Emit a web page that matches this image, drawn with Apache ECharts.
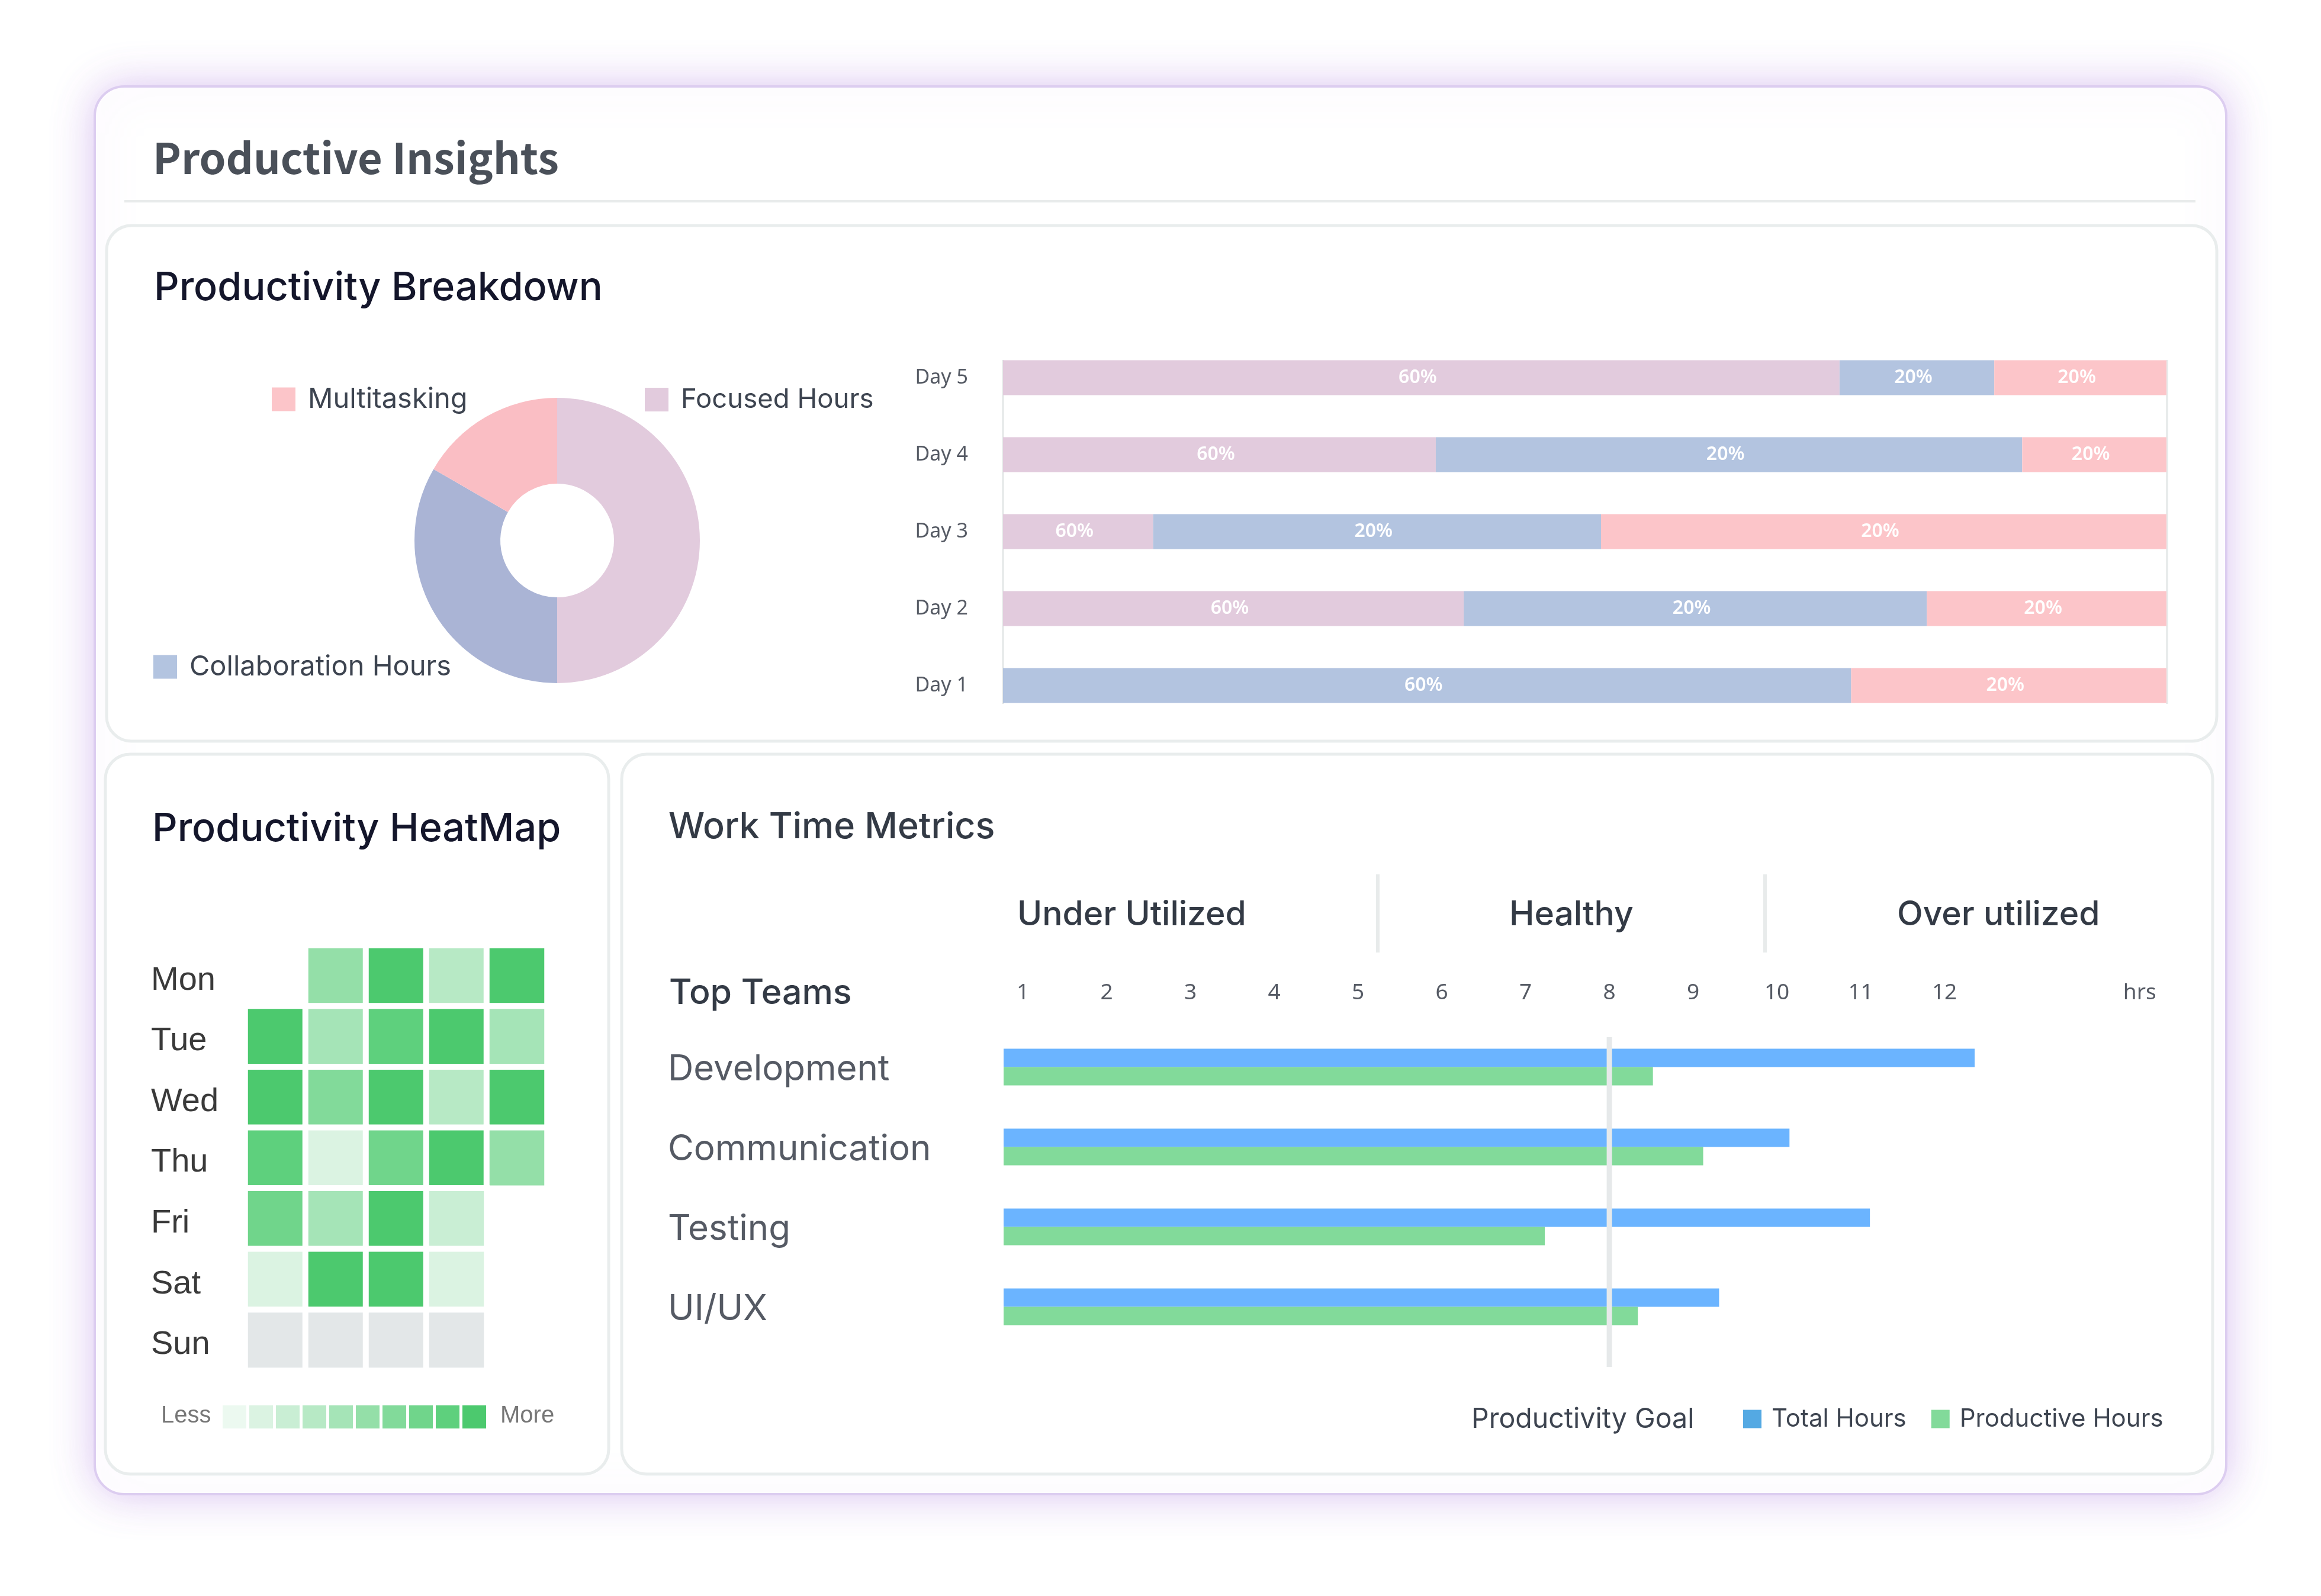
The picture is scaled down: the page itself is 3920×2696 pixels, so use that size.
<!DOCTYPE html>
<html>
<head>
<meta charset="utf-8">
<title>Productive Insights</title>
<style>
html, body { margin: 0; padding: 0; background: #fff; }
#main { width: 3920px; height: 2696px; }
</style>
<script src="https://cdn.jsdelivr.net/npm/echarts@6/dist/echarts.min.js"></script>
</head>
<body>
<div id="main"></div>
<script>
// donut
var pieNames = ['Focused Hours', 'Collaboration Hours', 'Multitasking'];
var pieValues = [50, 33.33, 16.67];

// stacked bars, bottom to top
var days = ['Day 1', 'Day 2', 'Day 3', 'Day 4', 'Day 5'];
var focusedShare = [null, 39.6, 12.9, 37.2, 71.9];
var collabShare = [72.9, 39.8, 38.5, 50.4, 13.3];
var multiShare = [27.1, 20.6, 48.6, 12.4, 14.8];
var focusedLabels = ['', '60%', '60%', '60%', '60%'];
var collabLabels = ['60%', '20%', '20%', '20%', '20%'];
var multiLabels = ['20%', '20%', '20%', '20%', '20%'];

// heatmap, one row per weekday, 0 = no activity, null = no cell
var weekdays = ['Mon', 'Tue', 'Wed', 'Thu', 'Fri', 'Sat', 'Sun'];
var weeks = ['W1', 'W2', 'W3', 'W4', 'W5'];
var heatMon = [null, 6, 10, 4, 10];
var heatTue = [10, 5, 9, 10, 5];
var heatWed = [10, 7, 10, 4, 10];
var heatThu = [9, 2, 8, 10, 6];
var heatFri = [8, 5, 10, 3, null];
var heatSat = [2, 10, 10, 2, null];
var heatSun = [0, 0, 0, 0, null];
var heatLevels = [1, 2, 3, 4, 5, 6, 7, 8, 9, 10];
var heatColors = ['#ecf9f0', '#dbf3e2', '#c9eed4', '#b7e9c5', '#a5e4b7', '#94dfa8', '#82da9a', '#70d58b', '#5ed07d', '#4cc96e'];

// work time
var teams = ['Development', 'Communication', 'Testing', 'UI/UX'];
var totalHours = [12.36, 10.15, 11.11, 9.31];
var productiveHours = [8.52, 9.12, 7.23, 8.34];
var goalHours = 8;
var hourTicks = [1, 2, 3, 4, 5, 6, 7, 8, 9, 10, 11, 12, 14.33];
var hourUnit = 'hrs';
var zones = ['Under Utilized', 'Healthy', 'Over utilized'];

var poppins = 'Inter';
var sourceSans = '"Noto Sans CJK SC"';

var heatRows = [heatMon, heatTue, heatWed, heatThu, heatFri, heatSat, heatSun];
var heatData = [];
heatRows.forEach(function (row, r) {
    row.forEach(function (v, c) {
        if (v !== null) {
            heatData.push([c, r, v]);
        }
    });
});

function frame(x, y, w, h, radius, stroke, width, extra) {
    var style = { fill: '#fff', stroke: stroke, lineWidth: width };
    for (var k in extra) {
        style[k] = extra[k];
    }
    return { type: 'rect', shape: { x: x, y: y, width: w, height: h, r: radius }, style: style, z: -10, silent: true };
}

function rule(x1, y1, x2, y2, width) {
    return { type: 'line', shape: { x1: x1, y1: y1, x2: x2, y2: y2 }, style: { stroke: '#e8ebeb', lineWidth: width }, z: -5, silent: true };
}

function label(text, x, y, size, color, weight, family) {
    return {
        type: 'text',
        x: x,
        y: y,
        style: {
            text: text,
            fill: color,
            font: (weight || 'normal') + ' ' + size + 'px ' + (family || poppins),
            textVerticalAlign: 'middle'
        },
        silent: true
    };
}

function heading(text, x, y, size, color, weight, family) {
    return {
        text: text,
        left: x,
        top: y,
        textVerticalAlign: 'middle',
        textStyle: { color: color, fontSize: size, fontWeight: weight, fontFamily: family || poppins }
    };
}

function pieLegend(name, color, x, y, size) {
    return {
        data: [{ name: name, itemStyle: { color: color } }],
        left: x,
        top: y,
        padding: 0,
        itemWidth: 40,
        itemHeight: 40,
        selectedMode: false,
        icon: 'rect',
        textStyle: { fontFamily: poppins, fontSize: size, color: '#3d4450', padding: [0, 0, 0, 16] }
    };
}

function stackBar(name, color, values, labels) {
    return {
        name: name,
        type: 'bar',
        stack: 'day',
        xAxisIndex: 0,
        yAxisIndex: 0,
        barWidth: 59,
        itemStyle: { color: color },
        label: {
            show: true,
            position: 'inside',
            offset: [-6, 0],
            color: '#fff',
            fontFamily: 'Noto Sans',
            fontWeight: 600,
            fontSize: 32,
            formatter: function (p) {
                return labels[p.dataIndex];
            }
        },
        data: values
    };
}

var myChart = echarts.init(document.getElementById('main'));

var option = {
    animation: false,
    backgroundColor: '#fff',
    title: [
        heading('Productive Insights', 253, 262, 72, '#4a5059', 'bold', sourceSans),
        heading('Productivity Breakdown', 255, 482, 66.5, '#14162b', 500),
        heading('Productivity HeatMap', 252, 1396, 66.5, '#14162b', 500),
        heading('Work Time Metrics', 1124, 1393, 61, '#333a45', 500)
    ],
    graphic: [
        frame(160, 146, 3600, 2378, 50, '#dccdf0', 4, { shadowBlur: 70, shadowColor: 'rgba(176,128,224,0.45)' }),
        rule(210, 340, 3708, 340, 4),
        frame(180, 381, 3564, 871, 42, '#e9eded', 5),
        frame(178, 1274, 850, 1216, 42, '#e9eded', 5),
        frame(1050, 1274, 2687, 1216, 42, '#e9eded', 5),
        rule(1694, 608, 1694, 1189, 4),
        rule(3660, 608, 3660, 1189, 4),
        rule(2327, 1477, 2327, 1609, 6),
        rule(2981, 1477, 2981, 1609, 6),
        label(zones[0], 1718, 1546, 57, '#333a45', 500),
        label(zones[1], 2549, 1546, 57, '#333a45', 500),
        label(zones[2], 3204, 1546, 57, '#333a45', 500),
        label('Top Teams', 1130, 1678, 59, '#333a45', 500),
        label('Less', 272, 2392, 40, '#777', 'normal', 'Liberation Sans'),
        label('More', 845, 2392, 40, '#777', 'normal', 'Liberation Sans')
    ],
    legend: [
        pieLegend('Multitasking', '#fcc5c9', 459, 651, 47),
        pieLegend('Focused Hours', '#e2cbdd', 1089, 652, 45.5),
        pieLegend('Collaboration Hours', '#b3c4e0', 259, 1103, 47),
        {
            data: [
                { name: 'Total Hours', itemStyle: { color: '#54a9e3' } },
                { name: 'Productive Hours', itemStyle: { color: '#82da9a' } }
            ],
            left: 2944,
            top: 2376,
            padding: 0,
            itemWidth: 31,
            itemHeight: 31,
            itemGap: 42,
            icon: 'rect',
            selectedMode: false,
            textStyle: { fontFamily: poppins, fontSize: 42, color: '#3d4450', padding: [0, 0, 0, 12] }
        },
        {
            data: [{ name: 'Productivity Goal', icon: 'none' }],
            left: 2480,
            top: 2375,
            padding: 0,
            itemWidth: 0,
            itemHeight: 31,
            selectedMode: false,
            textStyle: { fontFamily: poppins, fontSize: 46.5, color: '#3d4450' }
        }
    ],
    visualMap: {
        type: 'piecewise',
        seriesIndex: 4,
        orient: 'horizontal',
        left: 376,
        top: 2374,
        padding: 0,
        itemWidth: 40,
        itemHeight: 39,
        itemGap: 5,
        itemSymbol: 'rect',
        showLabel: false,
        hoverLink: false,
        selectedMode: false,
        pieces: heatLevels.map(function (v, i) {
            return { value: v, color: heatColors[i] };
        }),
        outOfRange: { color: '#e3e7e8' }
    },
    grid: [
        { left: 1694, top: 573, width: 1965, height: 650 },
        { left: 414, top: 1597, width: 510, height: 718 },
        { left: 1695, top: 1735, width: 1957, height: 540 },
        { left: 1695, top: 1752, width: 1957, height: 557 }
    ],
    xAxis: [
        { type: 'value', gridIndex: 0, min: 0, max: 100, show: false },
        { type: 'category', gridIndex: 1, data: weeks, show: false },
        {
            type: 'value',
            gridIndex: 2,
            position: 'top',
            min: 0.77,
            max: 14.6,
            splitLine: { show: false },
            axisLine: { show: false },
            axisTick: { show: false },
            axisLabel: {
                customValues: hourTicks,
                margin: 39,
                color: '#555a64',
                fontFamily: 'Noto Sans',
                fontSize: 37,
                formatter: function (v) {
                    return v > 12 ? hourUnit : v;
                }
            }
        },
        { type: 'value', gridIndex: 3, min: 0.77, max: 14.6, show: false }
    ],
    yAxis: [
        {
            type: 'category',
            gridIndex: 0,
            data: days,
            axisLine: { show: false },
            axisTick: { show: false },
            axisLabel: { margin: 59, color: '#555a64', fontFamily: 'Noto Sans', fontSize: 34 }
        },
        {
            type: 'category',
            gridIndex: 1,
            inverse: true,
            data: weekdays,
            axisLine: { show: false },
            axisTick: { show: false },
            axisLabel: { align: 'left', verticalAlign: 'top', lineHeight: 16, margin: 159, color: '#3a3a3a', fontFamily: 'Liberation Sans', fontSize: 56 }
        },
        {
            type: 'category',
            gridIndex: 2,
            inverse: true,
            data: teams,
            axisLine: { show: false },
            axisTick: { show: false },
            axisLabel: { align: 'left', verticalAlign: 'top', lineHeight: 8, margin: 567, color: '#555a64', fontFamily: poppins, fontSize: 60 }
        },
        { type: 'value', gridIndex: 3, min: 0, max: 1, show: false }
    ],
    series: [
        {
            name: 'Breakdown',
            type: 'pie',
            center: [941, 913],
            radius: [96, 241],
            startAngle: 90,
            clockwise: true,
            label: { show: false },
            labelLine: { show: false },
            color: ['#e2cbdd', '#aab4d5', '#fabec4'],
            data: pieNames.map(function (n, i) {
                return { name: n, value: pieValues[i] };
            })
        },
        stackBar('Focused', '#e2cbdd', focusedShare, focusedLabels),
        stackBar('Collaboration', '#b3c4e0', collabShare, collabLabels),
        stackBar('Multi', '#fcc5c9', multiShare, multiLabels),
        {
            name: 'Productivity',
            type: 'heatmap',
            xAxisIndex: 1,
            yAxisIndex: 1,
            itemStyle: { borderColor: '#fff', borderWidth: 10 },
            data: heatData
        },
        {
            name: 'Total Hours',
            type: 'bar',
            xAxisIndex: 2,
            yAxisIndex: 2,
            barWidth: 31,
            barGap: 0,
            itemStyle: { color: '#6bb4ff' },
            data: totalHours
        },
        {
            name: 'Productive Hours',
            type: 'bar',
            xAxisIndex: 2,
            yAxisIndex: 2,
            barWidth: 31,
            barGap: 0,
            itemStyle: { color: '#82da9a' },
            data: productiveHours
        },
        {
            name: 'Productivity Goal',
            type: 'line',
            xAxisIndex: 3,
            yAxisIndex: 3,
            showSymbol: false,
            z: 5,
            lineStyle: { color: '#e6e9ea', width: 9 },
            data: [[goalHours, 0], [goalHours, 1]]
        }
    ]
};

myChart.setOption(option);
</script>
</body>
</html>
